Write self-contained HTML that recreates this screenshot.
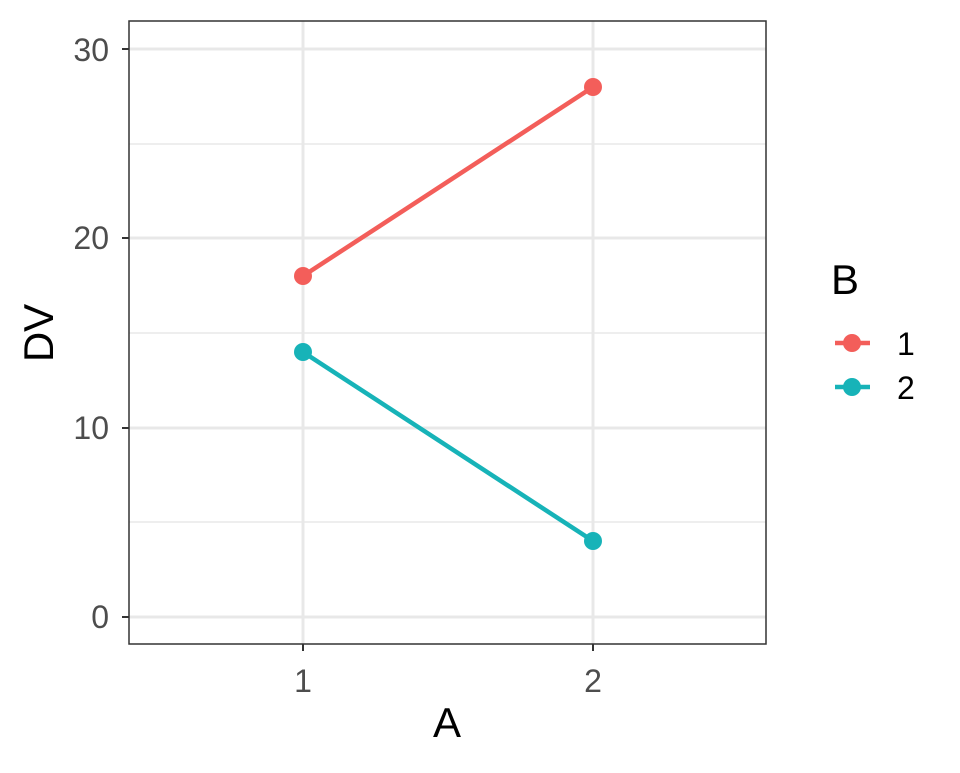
<!DOCTYPE html>
<html><head><style>body{margin:0;background:#fff}</style></head><body>
<svg width="960" height="768" xmlns="http://www.w3.org/2000/svg" font-family="'Liberation Sans', sans-serif">
<rect width="960" height="768" fill="#fff"/>
<g stroke="#e8e8e8" stroke-width="1.5">
<line x1="129" x2="766" y1="522" y2="522"/><line x1="129" x2="766" y1="333" y2="333"/><line x1="129" x2="766" y1="144" y2="144"/>
</g>
<g stroke="#e8e8e8" stroke-width="3">
<line x1="129" x2="766" y1="617" y2="617"/><line x1="129" x2="766" y1="428" y2="428"/><line x1="129" x2="766" y1="238" y2="238"/><line x1="129" x2="766" y1="49" y2="49"/>
<line x1="303" x2="303" y1="21" y2="644"/><line x1="593" x2="593" y1="21" y2="644"/>
</g>
<line x1="303" y1="276" x2="593" y2="87" stroke="#F35E5A" stroke-width="4.5"/>
<line x1="303" y1="352" x2="593" y2="541" stroke="#17B3B8" stroke-width="4.5"/>
<circle cx="303" cy="276" r="9" fill="#F35E5A"/><circle cx="593" cy="87" r="9" fill="#F35E5A"/>
<circle cx="303" cy="352" r="9" fill="#17B3B8"/><circle cx="593" cy="541" r="9" fill="#17B3B8"/>
<rect x="129" y="21" width="637" height="623" fill="none" stroke="#333" stroke-width="1.5"/>
<g stroke="#333" stroke-width="2">
<line x1="122" x2="129" y1="617" y2="617"/><line x1="122" x2="129" y1="428" y2="428"/><line x1="122" x2="129" y1="238" y2="238"/><line x1="122" x2="129" y1="49" y2="49"/>
<line x1="303" x2="303" y1="644" y2="651"/><line x1="593" x2="593" y1="644" y2="651"/>
</g>
<g fill="#4d4d4d" font-size="32" text-anchor="end">
<text x="109" y="628">0</text><text x="109" y="439">10</text><text x="109" y="249">20</text><text x="109" y="61">30</text>
</g>
<g fill="#4d4d4d" font-size="32" text-anchor="middle">
<text x="303" y="692">1</text><text x="593" y="692">2</text>
</g>
<text x="447" y="737" font-size="42" text-anchor="middle">A</text>
<text transform="translate(53,333) rotate(-90)" font-size="42" text-anchor="middle">DV</text>
<text x="831" y="294" font-size="42">B</text>
<line x1="835" x2="870" y1="343" y2="343" stroke="#F35E5A" stroke-width="4.5"/><circle cx="852" cy="343" r="9" fill="#F35E5A"/>
<line x1="835" x2="870" y1="387" y2="387" stroke="#17B3B8" stroke-width="4.5"/><circle cx="852" cy="387" r="9" fill="#17B3B8"/>
<text x="897" y="355" font-size="32">1</text><text x="897" y="399" font-size="32">2</text>
</svg>
</body></html>
